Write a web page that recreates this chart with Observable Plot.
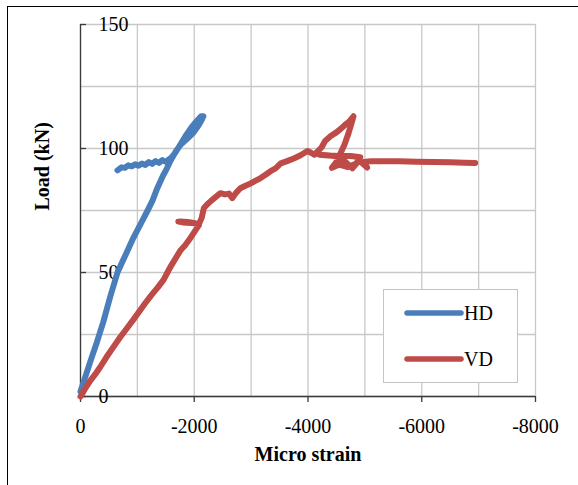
<!DOCTYPE html>
<html>
<head>
<meta charset="utf-8">
<script src="https://cdn.jsdelivr.net/npm/d3@7"></script>
<script src="https://cdn.jsdelivr.net/npm/@observablehq/plot@0.6"></script>
<style>
  html, body { margin: 0; padding: 0; background: #fff; }
  #wrap { position: relative; width: 578px; height: 485px; overflow: hidden; }
  #frame { position: absolute; left: 7px; top: 6px; width: 600px; height: 500px;
           border-left: 1.4px solid #000; border-top: 1.4px solid #000; pointer-events: none; }
  #legend { position: absolute; left: 383px; top: 289px; width: 133px; height: 92px;
            background: #fff; border: 1.3px solid #c4c4c4; }
  #legend svg { display: block; }
</style>
</head>
<body>
<div id="wrap">
  <div id="frame"></div>
  <div id="chart"></div>
  <div id="legend"></div>
</div>
<script>
// Series names and colours
const seriesNames = ["HD", "VD"];
const seriesColors = ["#4a7ebb", "#be4b48"];

// Axis ticks
const xTicks = [0, -2000, -4000, -6000, -8000];
const xGrid = [0, -1000, -2000, -3000, -4000, -5000, -6000, -7000, -8000];
const yTicks = [0, 50, 100, 150];
const yGrid = [0, 25, 50, 75, 100, 125, 150];

// HD gauge: micro strain and load (kN)
const hdStrain = [0, -50, -100, -200, -290, -400, -520, -650, -720, -800, -870, -930, -1010,
  -1090, -1180, -1266, -1350, -1450, -1520, -1580, -1680, -1760, -1880, -1990, -2080, -2130, -2160,
  -2120, -2040, -1950, -1860, -1780, -1700, -1640, -1590, -1550, -1500, -1440, -1380, -1320, -1260,
  -1200, -1140, -1080, -1020, -960, -900, -840, -780, -720, -650];
const hdLoad = [2, 5.5, 9, 16, 22, 30, 40, 50, 53.5, 57.5, 61, 64, 67.5,
  71, 75, 79, 84, 89, 92, 95, 99, 101.5, 104, 106.5, 109.5, 111.5, 113,
  113, 111, 108.5, 105.5, 102.5, 99.5, 97.5, 96.2, 95.6, 94.6, 95.3, 94.2, 94.9, 93.8,
  94.5, 93.4, 93.9, 93.1, 93.6, 92.8, 93.2, 92.2, 92.4, 91.2];

// VD gauge: micro strain and load (kN)
const vdStrain = [0, -40, -90, -176, -260, -350, -460, -580, -700, -800, -930, -1055, -1150, -1250,
  -1360, -1460, -1540, -1600, -1680, -1760, -1840, -1920, -2020, -2080,
  -2000, -1880, -1760, -1720, -1800, -1950, -2080, -2130, -2170, -2230, -2300, -2380, -2460, -2540,
  -2610, -2670, -2730, -2810, -2900, -3000, -3080, -3160, -3260, -3350, -3430, -3520, -3620, -3750,
  -3870, -3990, -4060, -4110, -4170, -4240, -4300, -4400, -4500, -4580, -4650, -4730, -4800,
  -4770, -4710, -4640, -4580, -4540, -4450, -4330, -4200, -4350, -4550, -4750, -4920,
  -4850, -4700, -4550, -4420, -4500, -4650, -4780, -4900, -5040, -4980, -5100, -5300, -5600,
  -5900, -6200, -6500, -6750, -6940];
const vdLoad = [0, 1.5, 3.5, 6.5, 9, 12, 16, 20, 24, 27, 31, 35, 38, 41,
  44, 47, 50.5, 53, 56, 59, 61, 63.5, 67, 69,
  70, 70.4, 70.6, 70.5, 70.2, 70, 69.5, 72, 76, 77.5, 79, 80.5, 82, 81.5,
  81.8, 80, 82, 84, 85, 86, 87, 88, 89.5, 91, 92, 94, 94.8, 96,
  97.3, 99, 98.2, 97.5, 98.8, 100.5, 103, 105, 106.5, 108, 109.5, 111, 113,
  110.5, 106, 101.5, 98.5, 96.5, 97, 97.3, 97.5, 97.2, 97, 97, 96.5,
  94, 92.5, 93.5, 92.2, 94.6, 94.8, 92, 95.2, 92.3, 94.6, 94.9, 94.9, 94.9,
  94.7, 94.6, 94.5, 94.3, 94.2];

const rows = [
  ...hdStrain.map((s, i) => ({strain: s, load: hdLoad[i], series: seriesNames[0]})),
  ...vdStrain.map((s, i) => ({strain: s, load: vdLoad[i], series: seriesNames[1]}))
];

const W = 578, H = 485;
const mL = 80, mR = 43, mT = 24, mB = 89;
const innerW = W - mL - mR;
const gridStyle = {stroke: "#c8c8c8", strokeOpacity: 1, strokeWidth: 1.3};
const axisColor = "#3a3a3a";

const chart = Plot.plot({
  width: W, height: H,
  marginLeft: mL, marginRight: mR, marginTop: mT, marginBottom: mB,
  style: {fontFamily: "'Liberation Serif', 'Times New Roman', serif", fontSize: "20px", color: "#000", background: "transparent"},
  x: {domain: [0, -8000]},
  y: {domain: [0, 150], axis: null},
  color: {domain: seriesNames, range: seriesColors},
  marks: [
    Plot.gridX(xGrid, gridStyle),
    Plot.gridY(yGrid, gridStyle),
    Plot.ruleX([0], {stroke: axisColor, strokeWidth: 1.3}),
    Plot.ruleY([0], {stroke: axisColor, strokeWidth: 1.3}),
    Plot.tickY(yTicks, {y: d => d, insetRight: innerW - 6, stroke: axisColor, strokeWidth: 1.3}),
    Plot.axisX({ticks: xTicks, tickSize: 6, tickPadding: 16, stroke: axisColor, strokeWidth: 1.3,
      tickFormat: d => String(d), label: null, fontSize: 20}),
    Plot.text(yTicks, {x: 0, y: d => d, dx: 18, textAnchor: "start", text: d => String(d), fontSize: 20}),
    Plot.line(rows, {x: "strain", y: "load", z: "series", stroke: "series",
      strokeWidth: 6, strokeLinejoin: "round", strokeLinecap: "round"}),
    Plot.text(["Micro strain"], {frameAnchor: "bottom", dy: 64, fontWeight: "bold", fontSize: 20}),
    Plot.text(["Load (kN)"], {frameAnchor: "left", rotate: -90, dx: -38, fontWeight: "bold", fontSize: 20})
  ]
});
document.getElementById("chart").appendChild(chart);

// Legend box inside the plot area
const lg = d3.select("#legend").append("svg").attr("width", 133).attr("height", 92)
  .style("font-family", "'Liberation Serif', 'Times New Roman', serif").style("font-size", "20px");
seriesNames.forEach((name, i) => {
  const cy = 23 + i * 46;
  lg.append("line").attr("x1", 23).attr("x2", 77).attr("y1", cy).attr("y2", cy)
    .attr("stroke", seriesColors[i]).attr("stroke-width", 5.5).attr("stroke-linecap", "round");
  lg.append("text").attr("x", 80).attr("y", cy).attr("dy", "0.35em").text(name);
});
</script>
</body>
</html>
